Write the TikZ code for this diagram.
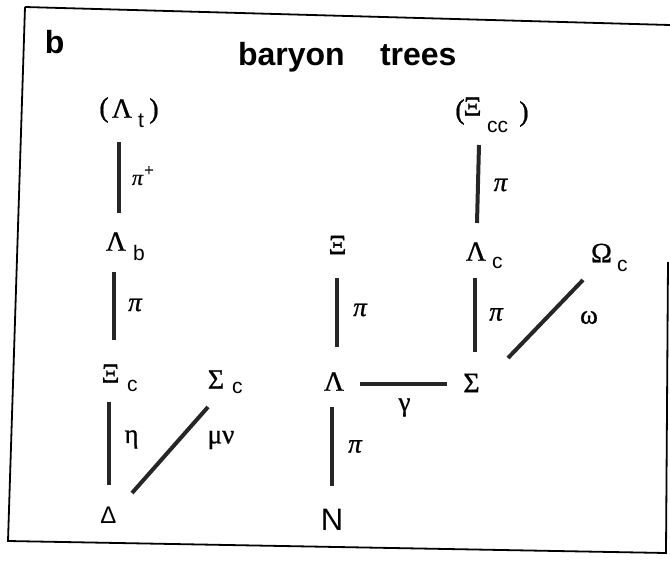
\documentclass[tikz,border=0pt]{standalone}
\usepackage{fontspec}
\setmainfont{Liberation Serif}
\newfontfamily\hv{Liberation Sans}
\newfontfamily\grk[FakeBold=0.8]{Liberation Serif}
\begin{document}
\begin{tikzpicture}[x=1pt,y=-1pt,
  every node/.style={inner sep=0pt, outer sep=0pt},
  gcap/.style={font=\grk\fontsize{28}{28}\selectfont},
  gsub/.style={anchor=base west, font=\hv\fontsize{21}{21}\selectfont},
  glbl/.style={font=\grk\fontsize{27}{27}\selectfont},
  gpi/.style={font=\grk\itshape\fontsize{27}{27}\selectfont},
  gttl/.style={anchor=base west, font=\hv\bfseries\fontsize{32}{32}\selectfont},
  glink/.style={line width=4pt, black!85},
  gframe/.style={line width=1.8pt}]
\useasboundingbox (0,0) rectangle (670,565);

% frame
\draw[gframe] (25,7) -- (670,25);
\draw[gframe] (25,7) -- (8,541) -- (666,553) -- (668,262);

% titles
\node[gttl] (tb) at (45,53) {b};
\node[gttl] (tbar) at (238,65) {baryon};
\node[gttl] (ttr) at (380,65) {trees};

% left tree
\node[gcap] (lp1) at (104,110) {(};
\node[gcap] (Lt) at (122,108.5) {Λ};
\node[gsub] (st) at (138,127) {t};
\node[gcap] (rp1) at (154,111) {)};
\node[gcap] (Lb) at (116,241.5) {Λ};
\node[gsub] (sb) at (133,260) {b};
\node[gcap] (Xc) at (110.5,373.5) {Ξ};
\node[gsub] (sxc) at (127,391) {c};
\node[gcap] (Sc) at (216,379.5) {Σ};
\node[gsub] (ssc) at (232,393) {c};
\node[font=\hv\fontsize{24}{24}\selectfont] (D) at (108.5,515) {Δ};

% middle tree
\node[gcap] (X) at (337.5,245) {Ξ};
\node[gcap] (L) at (334,381.5) {Λ};
\node[gcap] (S) at (471.5,383) {Σ};
\node[font=\hv\fontsize{31}{31}\selectfont] (N) at (332,520) {N};

% right tree
\node[gcap] (lp2) at (460,112) {(};
\node[gcap] (Xcc) at (472.5,106.5) {Ξ};
\node[gsub] (scc) at (487,132) {cc};
\node[gcap] (rp2) at (524,114) {)};
\node[gcap] (Lc) at (476,251.5) {Λ};
\node[gsub] (slc) at (492,268) {c};
\node[gcap] (Oc) at (601.5,253) {Ω};
\node[gsub] (soc) at (617,271) {c};

% connectors
\draw[glink] ([shift={(-3,33.5)}]Lt.center) -- ([shift={(3,-28.5)}]Lb.center);
\draw[glink] ([shift={(-2,30.5)}]Lb.center) -- ([shift={(3.5,-33.5)}]Xc.center);
\draw[glink] ([shift={(-1.5,28.5)}]Xc.center) -- ([shift={(0.5,-30)}]D.center);
\draw[glink] ([shift={(23.5,-22)}]D.center) -- ([shift={(-8,27.5)}]Sc.center);
\draw[glink] ([shift={(-0.5,33)}]X.center) -- ([shift={(3,-34.5)}]L.center);
\draw[glink] ([shift={(26,2.5)}]L.center) -- ([shift={(-24.5,1)}]S.center);
\draw[glink] ([shift={(-2,25.5)}]L.center) -- ([shift={(0,-34)}]N.center);
\draw[glink] ([shift={(6.5,38.5)}]Xcc.center) -- ([shift={(1,-28.5)}]Lc.center);
\draw[glink] ([shift={(-1,26.5)}]Lc.center) -- ([shift={(3.5,-31)}]S.center);
\draw[glink] ([shift={(36.5,-25)}]S.center) -- ([shift={(-18.5,27)}]Oc.center);

% connector labels
\node[font=\grk\itshape\fontsize{22}{22}\selectfont] (p1) at (137.5,180) {π};
\node[font=\grk\fontsize{17}{17}\selectfont] (plus) at (149,171) {+};
\node[gpi] (p2) at (135,305) {π};
\node[glbl] (eta) at (131.5,439.5) {η};
\node[glbl] (munu) at (221,440) {μν};
\node[gpi] (p3) at (360,310) {π};
\node[glbl] (gam) at (404.5,407.5) {γ};
\node[gpi] (p4) at (355,446.5) {π};
\node[gpi] (p5) at (500.5,185) {π};
\node[gpi] (p6) at (496,314.5) {π};
\node[glbl] (om) at (589,317.5) {ω};
\end{tikzpicture}
\end{document}
